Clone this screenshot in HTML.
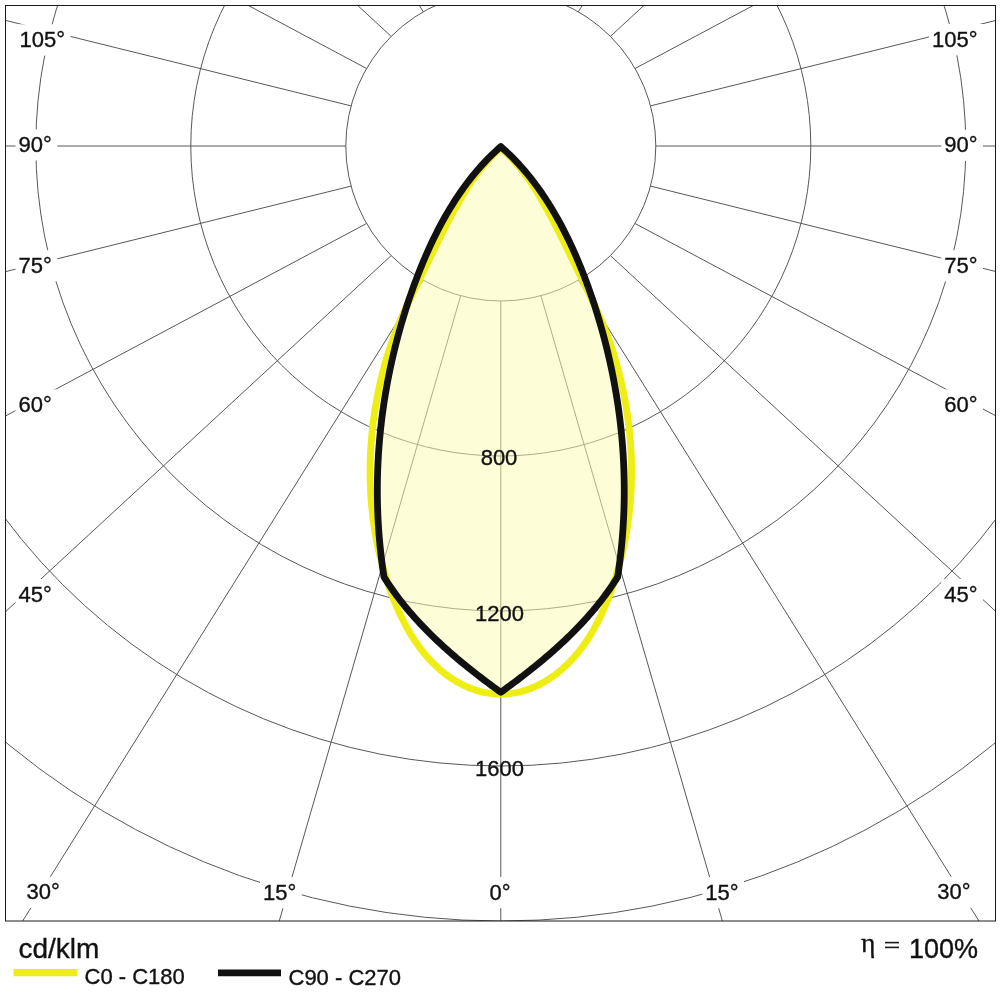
<!DOCTYPE html>
<html><head><meta charset="utf-8"><style>
html,body{margin:0;padding:0;background:#fff;width:1000px;height:1000px;overflow:hidden}
svg{display:block;will-change:transform;font-family:"Liberation Sans",sans-serif}
text{stroke:#111;stroke-width:0.35px}
</style></head><body>
<svg width="1000" height="1000" viewBox="0 0 1000 1000">
<defs><clipPath id="c"><rect x="5.5" y="5.5" width="990" height="915.5"/></clipPath></defs>
<rect width="1000" height="1000" fill="#fff"/>
<g clip-path="url(#c)">
<g fill="none" stroke="#585858" stroke-width="1">
<circle cx="500.8" cy="146" r="155"/>
<circle cx="500.8" cy="146" r="310"/>
<circle cx="500.8" cy="146" r="465"/>
<circle cx="500.8" cy="146" r="620"/>
<circle cx="500.8" cy="146" r="775"/>
<line x1="500.8" y1="301" x2="500.8" y2="1601"/>
<line x1="460.68" y1="295.72" x2="98.38" y2="1544.21"/>
<line x1="540.92" y1="295.72" x2="903.22" y2="1544.21"/>
<line x1="423.3" y1="280.23" x2="-265.91" y2="1382.5"/>
<line x1="578.3" y1="280.23" x2="1267.51" y2="1382.5"/>
<line x1="391.2" y1="255.6" x2="-563.91" y2="1137.51"/>
<line x1="610.4" y1="255.6" x2="1565.51" y2="1137.51"/>
<line x1="366.57" y1="223.5" x2="-780.6" y2="835.06"/>
<line x1="635.03" y1="223.5" x2="1782.2" y2="835.06"/>
<line x1="351.08" y1="186.12" x2="-910.87" y2="498.34"/>
<line x1="650.52" y1="186.12" x2="1912.47" y2="498.34"/>
<line x1="345.8" y1="146" x2="-954.2" y2="146"/>
<line x1="655.8" y1="146" x2="1955.8" y2="146"/>
<line x1="351.08" y1="105.88" x2="-910.87" y2="-206.34"/>
<line x1="650.52" y1="105.88" x2="1912.47" y2="-206.34"/>
<line x1="366.57" y1="68.5" x2="-780.6" y2="-543.06"/>
<line x1="635.03" y1="68.5" x2="1782.2" y2="-543.06"/>
<line x1="391.2" y1="36.4" x2="-563.91" y2="-845.51"/>
<line x1="610.4" y1="36.4" x2="1565.51" y2="-845.51"/>
<line x1="423.3" y1="11.77" x2="-265.91" y2="-1090.5"/>
<line x1="578.3" y1="11.77" x2="1267.51" y2="-1090.5"/>
</g>
<path d="M500.8 146.6 L498.47 148.66 L496.17 150.74 L493.91 152.86 L491.68 155 L489.48 157.18 L487.31 159.38 L485.18 161.6 L483.07 163.86 L481 166.14 L478.96 168.44 L476.94 170.77 L474.96 173.13 L473 175.5 L471.08 177.9 L469.18 180.33 L467.31 182.77 L465.47 185.24 L463.65 187.73 L461.87 190.23 L460.1 192.76 L458.37 195.31 L456.66 197.87 L454.98 200.46 L453.32 203.06 L451.68 205.68 L450.07 208.31 L448.48 210.96 L446.92 213.63 L445.38 216.31 L443.86 219.01 L442.37 221.71 L440.89 224.44 L439.44 227.17 L438.01 229.92 L436.6 232.68 L435.21 235.45 L433.84 238.23 L432.49 241.03 L431.16 243.83 L429.85 246.65 L428.56 249.47 L427.29 252.31 L426.04 255.15 L424.81 258 L423.59 260.86 L422.39 263.73 L421.21 266.61 L420.04 269.5 L418.9 272.39 L417.77 275.29 L416.65 278.19 L415.55 281.1 L414.47 284.02 L413.4 286.94 L412.35 289.87 L411.31 292.8 L410.29 295.74 L409.29 298.68 L408.3 301.63 L407.32 304.58 L406.37 307.54 L405.42 310.5 L404.5 313.47 L403.58 316.44 L402.69 319.42 L401.8 322.4 L400.94 325.38 L400.09 328.37 L399.25 331.36 L398.43 334.36 L397.63 337.36 L396.84 340.36 L396.06 343.36 L395.3 346.37 L394.56 349.39 L393.83 352.4 L393.12 355.42 L392.42 358.44 L391.73 361.46 L391.07 364.49 L390.41 367.52 L389.78 370.55 L389.16 373.59 L388.55 376.63 L387.96 379.67 L387.39 382.71 L386.83 385.76 L386.28 388.81 L385.76 391.86 L385.24 394.91 L384.75 397.97 L384.27 401.02 L383.8 404.08 L383.35 407.15 L382.92 410.21 L382.5 413.28 L382.1 416.34 L381.72 419.41 L381.35 422.48 L381 425.56 L380.66 428.63 L380.34 431.71 L380.03 434.79 L379.74 437.86 L379.47 440.95 L379.22 444.03 L378.98 447.11 L378.75 450.2 L378.54 453.28 L378.35 456.37 L378.18 459.46 L378.02 462.54 L377.88 465.63 L377.75 468.73 L377.65 471.82 L377.55 474.91 L377.48 478 L377.42 481.1 L377.38 484.19 L377.35 487.29 L377.34 490.38 L377.35 493.48 L377.37 496.57 L377.42 499.67 L377.47 502.77 L377.55 505.86 L377.64 508.96 L377.75 512.06 L377.87 515.15 L378.02 518.25 L378.18 521.35 L378.35 524.44 L378.55 527.54 L378.76 530.64 L378.99 533.73 L379.23 536.83 L379.5 539.92 L379.78 543.02 L380.07 546.11 L380.39 549.2 L380.72 552.29 L381.07 555.39 L381.43 558.48 L381.82 561.57 L382.22 564.66 L382.64 567.74 L383.07 570.83 L383.53 573.92 L384 577 L385.5 579.38 L387.02 581.74 L388.57 584.08 L390.13 586.41 L391.72 588.71 L393.34 591 L394.97 593.28 L396.63 595.53 L398.3 597.77 L400 599.99 L401.72 602.2 L403.46 604.38 L405.21 606.56 L406.99 608.71 L408.78 610.85 L410.6 612.98 L412.43 615.09 L414.28 617.18 L416.14 619.26 L418.03 621.32 L419.93 623.37 L421.84 625.41 L423.78 627.43 L425.72 629.43 L427.69 631.43 L429.66 633.4 L431.66 635.37 L433.66 637.32 L435.68 639.26 L437.71 641.19 L439.76 643.1 L441.82 645 L443.89 646.89 L445.97 648.77 L448.07 650.63 L450.17 652.48 L452.29 654.32 L454.41 656.15 L456.55 657.97 L458.69 659.78 L460.85 661.58 L463.01 663.36 L465.19 665.14 L467.37 666.91 L469.55 668.66 L471.75 670.41 L473.95 672.14 L476.16 673.87 L478.38 675.59 L480.6 677.3 L482.83 679 L485.06 680.69 L487.3 682.37 L489.54 684.04 L491.78 685.71 L494.03 687.37 L496.29 689.02 L498.54 690.66 L500.8 692.3 L503.06 690.66 L505.31 689.02 L507.57 687.37 L509.82 685.71 L512.06 684.04 L514.3 682.37 L516.54 680.69 L518.77 679 L521 677.3 L523.22 675.59 L525.44 673.87 L527.65 672.14 L529.85 670.41 L532.05 668.66 L534.23 666.91 L536.41 665.14 L538.59 663.36 L540.75 661.58 L542.91 659.78 L545.05 657.97 L547.19 656.15 L549.31 654.32 L551.43 652.48 L553.53 650.63 L555.63 648.77 L557.71 646.89 L559.78 645 L561.84 643.1 L563.89 641.19 L565.92 639.26 L567.94 637.32 L569.94 635.37 L571.94 633.4 L573.91 631.43 L575.88 629.43 L577.82 627.43 L579.76 625.41 L581.67 623.37 L583.57 621.32 L585.46 619.26 L587.32 617.18 L589.17 615.09 L591 612.98 L592.82 610.85 L594.61 608.71 L596.39 606.56 L598.14 604.38 L599.88 602.2 L601.6 599.99 L603.3 597.77 L604.97 595.53 L606.63 593.28 L608.26 591 L609.88 588.71 L611.47 586.41 L613.03 584.08 L614.58 581.74 L616.1 579.38 L617.6 577 L618.07 573.92 L618.53 570.83 L618.96 567.74 L619.38 564.66 L619.78 561.57 L620.17 558.48 L620.53 555.39 L620.88 552.29 L621.21 549.2 L621.53 546.11 L621.82 543.02 L622.1 539.92 L622.37 536.83 L622.61 533.73 L622.84 530.64 L623.05 527.54 L623.25 524.44 L623.42 521.35 L623.58 518.25 L623.73 515.15 L623.85 512.06 L623.96 508.96 L624.05 505.86 L624.13 502.77 L624.18 499.67 L624.23 496.57 L624.25 493.48 L624.26 490.38 L624.25 487.29 L624.22 484.19 L624.18 481.1 L624.12 478 L624.05 474.91 L623.95 471.82 L623.85 468.73 L623.72 465.63 L623.58 462.54 L623.42 459.46 L623.25 456.37 L623.06 453.28 L622.85 450.2 L622.62 447.11 L622.38 444.03 L622.13 440.95 L621.86 437.86 L621.57 434.79 L621.26 431.71 L620.94 428.63 L620.6 425.56 L620.25 422.48 L619.88 419.41 L619.5 416.34 L619.1 413.28 L618.68 410.21 L618.25 407.15 L617.8 404.08 L617.33 401.02 L616.85 397.97 L616.36 394.91 L615.84 391.86 L615.32 388.81 L614.77 385.76 L614.21 382.71 L613.64 379.67 L613.05 376.63 L612.44 373.59 L611.82 370.55 L611.19 367.52 L610.53 364.49 L609.87 361.46 L609.18 358.44 L608.48 355.42 L607.77 352.4 L607.04 349.39 L606.3 346.37 L605.54 343.36 L604.76 340.36 L603.97 337.36 L603.17 334.36 L602.35 331.36 L601.51 328.37 L600.66 325.38 L599.8 322.4 L598.91 319.42 L598.02 316.44 L597.1 313.47 L596.18 310.5 L595.23 307.54 L594.28 304.58 L593.3 301.63 L592.31 298.68 L591.31 295.74 L590.29 292.8 L589.25 289.87 L588.2 286.94 L587.13 284.02 L586.05 281.1 L584.95 278.19 L583.83 275.29 L582.7 272.39 L581.56 269.5 L580.39 266.61 L579.21 263.73 L578.01 260.86 L576.79 258 L575.56 255.15 L574.31 252.31 L573.04 249.47 L571.75 246.65 L570.44 243.83 L569.11 241.03 L567.76 238.23 L566.39 235.45 L565 232.68 L563.59 229.92 L562.16 227.17 L560.71 224.44 L559.23 221.71 L557.74 219.01 L556.22 216.31 L554.68 213.63 L553.12 210.96 L551.53 208.31 L549.92 205.68 L548.28 203.06 L546.62 200.46 L544.94 197.87 L543.23 195.31 L541.5 192.76 L539.73 190.23 L537.95 187.73 L536.13 185.24 L534.29 182.77 L532.42 180.33 L530.52 177.9 L528.6 175.5 L526.64 173.13 L524.66 170.77 L522.64 168.44 L520.6 166.14 L518.53 163.86 L516.42 161.6 L514.29 159.38 L512.12 157.18 L509.92 155 L507.69 152.86 L505.43 150.74 L503.13 148.66 L500.8 146.6 Z" fill="#fbfbb5" fill-opacity="0.53"/>
<g font-size="22" fill="#111">
<text x="499" y="464.9" text-anchor="middle">800</text>
<text x="499.5" y="620.5" text-anchor="middle">1200</text>
<text x="499.5" y="775.8" text-anchor="middle">1600</text>
</g>
<path d="M500.8 148 L498.28 150.19 L495.81 152.44 L493.41 154.74 L491.07 157.1 L488.79 159.51 L486.56 161.97 L484.38 164.48 L482.26 167.03 L480.18 169.62 L478.15 172.25 L476.16 174.91 L474.21 177.62 L472.3 180.35 L470.43 183.11 L468.6 185.9 L466.79 188.72 L465.02 191.56 L463.28 194.41 L461.56 197.29 L459.86 200.18 L458.19 203.08 L456.54 206 L454.9 208.92 L453.29 211.86 L451.69 214.8 L450.11 217.76 L448.54 220.72 L446.99 223.68 L445.45 226.66 L443.92 229.64 L442.4 232.63 L440.9 235.62 L439.4 238.62 L437.91 241.62 L436.43 244.62 L434.95 247.63 L433.48 250.64 L432.02 253.65 L430.55 256.66 L429.1 259.68 L427.64 262.69 L426.18 265.7 L424.72 268.71 L423.26 271.72 L421.8 274.72 L420.33 277.73 L418.86 280.73 L417.4 283.73 L415.93 286.73 L414.47 289.73 L413.01 292.73 L411.57 295.73 L410.13 298.74 L408.7 301.75 L407.29 304.77 L405.89 307.79 L404.5 310.82 L403.14 313.86 L401.79 316.9 L400.47 319.96 L399.18 323.03 L397.9 326.11 L396.66 329.2 L395.45 332.31 L394.26 335.43 L393.11 338.56 L391.99 341.7 L390.89 344.86 L389.83 348.03 L388.79 351.21 L387.79 354.41 L386.81 357.61 L385.86 360.82 L384.94 364.04 L384.05 367.27 L383.19 370.51 L382.36 373.76 L381.55 377.01 L380.77 380.27 L380.02 383.54 L379.3 386.82 L378.6 390.1 L377.93 393.38 L377.29 396.67 L376.67 399.97 L376.08 403.26 L375.52 406.56 L374.99 409.87 L374.48 413.18 L374 416.49 L373.54 419.8 L373.12 423.12 L372.72 426.44 L372.35 429.76 L372 433.08 L371.69 436.4 L371.4 439.73 L371.14 443.06 L370.91 446.38 L370.7 449.71 L370.53 453.04 L370.38 456.37 L370.26 459.71 L370.17 463.04 L370.11 466.37 L370.08 469.7 L370.08 473.03 L370.11 476.36 L370.17 479.69 L370.25 483.02 L370.37 486.35 L370.51 489.68 L370.69 493 L370.9 496.32 L371.13 499.65 L371.4 502.96 L371.7 506.28 L372.03 509.6 L372.39 512.91 L372.78 516.22 L373.2 519.52 L373.65 522.83 L374.13 526.13 L374.65 529.42 L375.2 532.72 L375.77 536 L376.38 539.29 L377.03 542.57 L377.7 545.84 L378.41 549.11 L379.14 552.38 L379.92 555.64 L380.72 558.89 L381.56 562.14 L382.42 565.39 L383.33 568.63 L384.26 571.86 L385.23 575.08 L386.23 578.3 L387.27 581.51 L388.33 584.72 L389.44 587.92 L390.57 591.11 L391.74 594.29 L392.95 597.46 L394.19 600.62 L395.47 603.76 L396.79 606.89 L398.15 610 L399.55 613.09 L400.99 616.15 L402.47 619.19 L404 622.2 L405.57 625.18 L407.18 628.13 L408.84 631.05 L410.55 633.94 L412.31 636.79 L414.11 639.59 L415.96 642.36 L417.87 645.09 L419.83 647.77 L421.83 650.4 L423.9 652.98 L426.01 655.51 L428.19 657.99 L430.42 660.42 L432.7 662.78 L435.05 665.09 L437.45 667.34 L439.92 669.52 L442.44 671.64 L445.03 673.7 L447.68 675.68 L450.4 677.59 L453.17 679.42 L456 681.16 L458.89 682.82 L461.83 684.39 L464.82 685.85 L467.87 687.21 L470.97 688.46 L474.11 689.6 L477.3 690.62 L480.54 691.52 L483.82 692.28 L487.14 692.91 L490.5 693.41 L493.9 693.75 L497.33 693.95 L500.8 694 L504.27 693.95 L507.7 693.75 L511.1 693.41 L514.46 692.91 L517.78 692.28 L521.06 691.52 L524.3 690.62 L527.49 689.6 L530.63 688.46 L533.73 687.21 L536.78 685.85 L539.77 684.39 L542.71 682.82 L545.6 681.16 L548.43 679.42 L551.2 677.59 L553.92 675.68 L556.57 673.7 L559.16 671.64 L561.68 669.52 L564.15 667.34 L566.55 665.09 L568.9 662.78 L571.18 660.42 L573.41 657.99 L575.59 655.51 L577.7 652.98 L579.77 650.4 L581.77 647.77 L583.73 645.09 L585.64 642.36 L587.49 639.59 L589.29 636.79 L591.05 633.94 L592.76 631.05 L594.42 628.13 L596.03 625.18 L597.6 622.2 L599.13 619.19 L600.61 616.15 L602.05 613.09 L603.45 610 L604.81 606.89 L606.13 603.76 L607.41 600.62 L608.65 597.46 L609.86 594.29 L611.03 591.11 L612.16 587.92 L613.27 584.72 L614.33 581.51 L615.37 578.3 L616.37 575.08 L617.34 571.86 L618.27 568.63 L619.18 565.39 L620.04 562.14 L620.88 558.89 L621.68 555.64 L622.46 552.38 L623.19 549.11 L623.9 545.84 L624.57 542.57 L625.22 539.29 L625.83 536 L626.4 532.72 L626.95 529.42 L627.47 526.13 L627.95 522.83 L628.4 519.52 L628.82 516.22 L629.21 512.91 L629.57 509.6 L629.9 506.28 L630.2 502.96 L630.47 499.65 L630.7 496.32 L630.91 493 L631.09 489.68 L631.23 486.35 L631.35 483.02 L631.43 479.69 L631.49 476.36 L631.52 473.03 L631.52 469.7 L631.49 466.37 L631.43 463.04 L631.34 459.71 L631.22 456.37 L631.07 453.04 L630.9 449.71 L630.69 446.38 L630.46 443.06 L630.2 439.73 L629.91 436.4 L629.6 433.08 L629.25 429.76 L628.88 426.44 L628.48 423.12 L628.06 419.8 L627.6 416.49 L627.12 413.18 L626.61 409.87 L626.08 406.56 L625.52 403.26 L624.93 399.97 L624.31 396.67 L623.67 393.38 L623 390.1 L622.3 386.82 L621.58 383.54 L620.83 380.27 L620.05 377.01 L619.24 373.76 L618.41 370.51 L617.55 367.27 L616.66 364.04 L615.74 360.82 L614.79 357.61 L613.81 354.41 L612.81 351.21 L611.77 348.03 L610.71 344.86 L609.61 341.7 L608.49 338.56 L607.34 335.43 L606.15 332.31 L604.94 329.2 L603.7 326.11 L602.42 323.03 L601.13 319.96 L599.81 316.9 L598.46 313.86 L597.1 310.82 L595.71 307.79 L594.31 304.77 L592.9 301.75 L591.47 298.74 L590.03 295.73 L588.59 292.73 L587.13 289.73 L585.67 286.73 L584.2 283.73 L582.74 280.73 L581.27 277.73 L579.8 274.72 L578.34 271.72 L576.88 268.71 L575.42 265.7 L573.96 262.69 L572.5 259.68 L571.05 256.66 L569.58 253.65 L568.12 250.64 L566.65 247.63 L565.17 244.62 L563.69 241.62 L562.2 238.62 L560.7 235.62 L559.2 232.63 L557.68 229.64 L556.15 226.66 L554.61 223.68 L553.06 220.72 L551.49 217.76 L549.91 214.8 L548.31 211.86 L546.7 208.92 L545.06 206 L543.41 203.08 L541.74 200.18 L540.04 197.29 L538.32 194.41 L536.58 191.56 L534.81 188.72 L533 185.9 L531.17 183.11 L529.3 180.35 L527.39 177.62 L525.44 174.91 L523.45 172.25 L521.42 169.62 L519.34 167.03 L517.22 164.48 L515.04 161.97 L512.81 159.51 L510.53 157.1 L508.19 154.74 L505.79 152.44 L503.32 150.19 L500.8 148 Z" fill="none" stroke="#eeee14" stroke-width="6.9" stroke-linejoin="round"/>
<path d="M500.8 146.6 L498.47 148.66 L496.17 150.74 L493.91 152.86 L491.68 155 L489.48 157.18 L487.31 159.38 L485.18 161.6 L483.07 163.86 L481 166.14 L478.96 168.44 L476.94 170.77 L474.96 173.13 L473 175.5 L471.08 177.9 L469.18 180.33 L467.31 182.77 L465.47 185.24 L463.65 187.73 L461.87 190.23 L460.1 192.76 L458.37 195.31 L456.66 197.87 L454.98 200.46 L453.32 203.06 L451.68 205.68 L450.07 208.31 L448.48 210.96 L446.92 213.63 L445.38 216.31 L443.86 219.01 L442.37 221.71 L440.89 224.44 L439.44 227.17 L438.01 229.92 L436.6 232.68 L435.21 235.45 L433.84 238.23 L432.49 241.03 L431.16 243.83 L429.85 246.65 L428.56 249.47 L427.29 252.31 L426.04 255.15 L424.81 258 L423.59 260.86 L422.39 263.73 L421.21 266.61 L420.04 269.5 L418.9 272.39 L417.77 275.29 L416.65 278.19 L415.55 281.1 L414.47 284.02 L413.4 286.94 L412.35 289.87 L411.31 292.8 L410.29 295.74 L409.29 298.68 L408.3 301.63 L407.32 304.58 L406.37 307.54 L405.42 310.5 L404.5 313.47 L403.58 316.44 L402.69 319.42 L401.8 322.4 L400.94 325.38 L400.09 328.37 L399.25 331.36 L398.43 334.36 L397.63 337.36 L396.84 340.36 L396.06 343.36 L395.3 346.37 L394.56 349.39 L393.83 352.4 L393.12 355.42 L392.42 358.44 L391.73 361.46 L391.07 364.49 L390.41 367.52 L389.78 370.55 L389.16 373.59 L388.55 376.63 L387.96 379.67 L387.39 382.71 L386.83 385.76 L386.28 388.81 L385.76 391.86 L385.24 394.91 L384.75 397.97 L384.27 401.02 L383.8 404.08 L383.35 407.15 L382.92 410.21 L382.5 413.28 L382.1 416.34 L381.72 419.41 L381.35 422.48 L381 425.56 L380.66 428.63 L380.34 431.71 L380.03 434.79 L379.74 437.86 L379.47 440.95 L379.22 444.03 L378.98 447.11 L378.75 450.2 L378.54 453.28 L378.35 456.37 L378.18 459.46 L378.02 462.54 L377.88 465.63 L377.75 468.73 L377.65 471.82 L377.55 474.91 L377.48 478 L377.42 481.1 L377.38 484.19 L377.35 487.29 L377.34 490.38 L377.35 493.48 L377.37 496.57 L377.42 499.67 L377.47 502.77 L377.55 505.86 L377.64 508.96 L377.75 512.06 L377.87 515.15 L378.02 518.25 L378.18 521.35 L378.35 524.44 L378.55 527.54 L378.76 530.64 L378.99 533.73 L379.23 536.83 L379.5 539.92 L379.78 543.02 L380.07 546.11 L380.39 549.2 L380.72 552.29 L381.07 555.39 L381.43 558.48 L381.82 561.57 L382.22 564.66 L382.64 567.74 L383.07 570.83 L383.53 573.92 L384 577 L385.5 579.38 L387.02 581.74 L388.57 584.08 L390.13 586.41 L391.72 588.71 L393.34 591 L394.97 593.28 L396.63 595.53 L398.3 597.77 L400 599.99 L401.72 602.2 L403.46 604.38 L405.21 606.56 L406.99 608.71 L408.78 610.85 L410.6 612.98 L412.43 615.09 L414.28 617.18 L416.14 619.26 L418.03 621.32 L419.93 623.37 L421.84 625.41 L423.78 627.43 L425.72 629.43 L427.69 631.43 L429.66 633.4 L431.66 635.37 L433.66 637.32 L435.68 639.26 L437.71 641.19 L439.76 643.1 L441.82 645 L443.89 646.89 L445.97 648.77 L448.07 650.63 L450.17 652.48 L452.29 654.32 L454.41 656.15 L456.55 657.97 L458.69 659.78 L460.85 661.58 L463.01 663.36 L465.19 665.14 L467.37 666.91 L469.55 668.66 L471.75 670.41 L473.95 672.14 L476.16 673.87 L478.38 675.59 L480.6 677.3 L482.83 679 L485.06 680.69 L487.3 682.37 L489.54 684.04 L491.78 685.71 L494.03 687.37 L496.29 689.02 L498.54 690.66 L500.8 692.3 L503.06 690.66 L505.31 689.02 L507.57 687.37 L509.82 685.71 L512.06 684.04 L514.3 682.37 L516.54 680.69 L518.77 679 L521 677.3 L523.22 675.59 L525.44 673.87 L527.65 672.14 L529.85 670.41 L532.05 668.66 L534.23 666.91 L536.41 665.14 L538.59 663.36 L540.75 661.58 L542.91 659.78 L545.05 657.97 L547.19 656.15 L549.31 654.32 L551.43 652.48 L553.53 650.63 L555.63 648.77 L557.71 646.89 L559.78 645 L561.84 643.1 L563.89 641.19 L565.92 639.26 L567.94 637.32 L569.94 635.37 L571.94 633.4 L573.91 631.43 L575.88 629.43 L577.82 627.43 L579.76 625.41 L581.67 623.37 L583.57 621.32 L585.46 619.26 L587.32 617.18 L589.17 615.09 L591 612.98 L592.82 610.85 L594.61 608.71 L596.39 606.56 L598.14 604.38 L599.88 602.2 L601.6 599.99 L603.3 597.77 L604.97 595.53 L606.63 593.28 L608.26 591 L609.88 588.71 L611.47 586.41 L613.03 584.08 L614.58 581.74 L616.1 579.38 L617.6 577 L618.07 573.92 L618.53 570.83 L618.96 567.74 L619.38 564.66 L619.78 561.57 L620.17 558.48 L620.53 555.39 L620.88 552.29 L621.21 549.2 L621.53 546.11 L621.82 543.02 L622.1 539.92 L622.37 536.83 L622.61 533.73 L622.84 530.64 L623.05 527.54 L623.25 524.44 L623.42 521.35 L623.58 518.25 L623.73 515.15 L623.85 512.06 L623.96 508.96 L624.05 505.86 L624.13 502.77 L624.18 499.67 L624.23 496.57 L624.25 493.48 L624.26 490.38 L624.25 487.29 L624.22 484.19 L624.18 481.1 L624.12 478 L624.05 474.91 L623.95 471.82 L623.85 468.73 L623.72 465.63 L623.58 462.54 L623.42 459.46 L623.25 456.37 L623.06 453.28 L622.85 450.2 L622.62 447.11 L622.38 444.03 L622.13 440.95 L621.86 437.86 L621.57 434.79 L621.26 431.71 L620.94 428.63 L620.6 425.56 L620.25 422.48 L619.88 419.41 L619.5 416.34 L619.1 413.28 L618.68 410.21 L618.25 407.15 L617.8 404.08 L617.33 401.02 L616.85 397.97 L616.36 394.91 L615.84 391.86 L615.32 388.81 L614.77 385.76 L614.21 382.71 L613.64 379.67 L613.05 376.63 L612.44 373.59 L611.82 370.55 L611.19 367.52 L610.53 364.49 L609.87 361.46 L609.18 358.44 L608.48 355.42 L607.77 352.4 L607.04 349.39 L606.3 346.37 L605.54 343.36 L604.76 340.36 L603.97 337.36 L603.17 334.36 L602.35 331.36 L601.51 328.37 L600.66 325.38 L599.8 322.4 L598.91 319.42 L598.02 316.44 L597.1 313.47 L596.18 310.5 L595.23 307.54 L594.28 304.58 L593.3 301.63 L592.31 298.68 L591.31 295.74 L590.29 292.8 L589.25 289.87 L588.2 286.94 L587.13 284.02 L586.05 281.1 L584.95 278.19 L583.83 275.29 L582.7 272.39 L581.56 269.5 L580.39 266.61 L579.21 263.73 L578.01 260.86 L576.79 258 L575.56 255.15 L574.31 252.31 L573.04 249.47 L571.75 246.65 L570.44 243.83 L569.11 241.03 L567.76 238.23 L566.39 235.45 L565 232.68 L563.59 229.92 L562.16 227.17 L560.71 224.44 L559.23 221.71 L557.74 219.01 L556.22 216.31 L554.68 213.63 L553.12 210.96 L551.53 208.31 L549.92 205.68 L548.28 203.06 L546.62 200.46 L544.94 197.87 L543.23 195.31 L541.5 192.76 L539.73 190.23 L537.95 187.73 L536.13 185.24 L534.29 182.77 L532.42 180.33 L530.52 177.9 L528.6 175.5 L526.64 173.13 L524.66 170.77 L522.64 168.44 L520.6 166.14 L518.53 163.86 L516.42 161.6 L514.29 159.38 L512.12 157.18 L509.92 155 L507.69 152.86 L505.43 150.74 L503.13 148.66 L500.8 146.6 Z" fill="none" stroke="#111" stroke-width="6.8" stroke-linejoin="round"/>
<g font-size="22" fill="#111">
<rect x="16.5" y="24.3" width="54" height="31.2" fill="#fff"/>
<text x="19.5" y="46.9" text-anchor="start">105°</text>
<rect x="15.5" y="129.3" width="41.76" height="31.2" fill="#fff"/>
<text x="18.5" y="151.9" text-anchor="start">90°</text>
<rect x="15.5" y="250.2" width="41.76" height="31.2" fill="#fff"/>
<text x="18.5" y="272.8" text-anchor="start">75°</text>
<rect x="15.5" y="389.4" width="41.76" height="31.2" fill="#fff"/>
<text x="18.5" y="412" text-anchor="start">60°</text>
<rect x="15.5" y="579" width="41.76" height="31.2" fill="#fff"/>
<text x="18.5" y="601.6" text-anchor="start">45°</text>
<rect x="929" y="24" width="54" height="31.2" fill="#fff"/>
<text x="977.5" y="46.6" text-anchor="end">105°</text>
<rect x="941.24" y="129.7" width="41.76" height="31.2" fill="#fff"/>
<text x="977.5" y="152.3" text-anchor="end">90°</text>
<rect x="941.24" y="250.2" width="41.76" height="31.2" fill="#fff"/>
<text x="977.5" y="272.8" text-anchor="end">75°</text>
<rect x="941.24" y="389.4" width="41.76" height="31.2" fill="#fff"/>
<text x="977.5" y="412" text-anchor="end">60°</text>
<rect x="941.24" y="579" width="41.76" height="31.2" fill="#fff"/>
<text x="977.5" y="601.6" text-anchor="end">45°</text>
<rect x="23.5" y="876.7" width="41.76" height="31.2" fill="#fff"/>
<text x="26.5" y="899.3" text-anchor="start">30°</text>
<rect x="260" y="877" width="41.76" height="31.2" fill="#fff"/>
<text x="263" y="899.6" text-anchor="start">15°</text>
<rect x="486.5" y="877" width="29.53" height="31.2" fill="#fff"/>
<text x="489.5" y="899.6" text-anchor="start">0°</text>
<rect x="702.24" y="877" width="41.76" height="31.2" fill="#fff"/>
<text x="738.5" y="899.6" text-anchor="end">15°</text>
<rect x="934.24" y="876.7" width="41.76" height="31.2" fill="#fff"/>
<text x="970.5" y="899.3" text-anchor="end">30°</text>
</g>
</g>
<rect x="5.5" y="5.5" width="990" height="915.5" fill="none" stroke="#1a1a1a" stroke-width="1"/>
<text x="18.5" y="957.6" font-size="28" fill="#111">cd/klm</text>
<line x1="13.5" y1="972.7" x2="77" y2="972.7" stroke="#eeee14" stroke-width="7.2"/>
<text x="84.5" y="984.2" font-size="22" fill="#111">C0 - C180</text>
<line x1="218" y1="972.8" x2="281" y2="972.8" stroke="#111" stroke-width="6.8"/>
<text x="288.5" y="984.5" font-size="22" fill="#111">C90 - C270</text>
<text x="861" y="952.3" font-size="27.5" fill="#111" style="font-family:'Liberation Serif',serif">η</text>
<rect x="885" y="941.8" width="14" height="1.6" fill="#1a1a1a"/>
<rect x="885" y="946.6" width="14" height="1.6" fill="#1a1a1a"/>
<text x="978" y="957.7" font-size="27" fill="#111" text-anchor="end">100%</text>
</svg>
</body></html>
